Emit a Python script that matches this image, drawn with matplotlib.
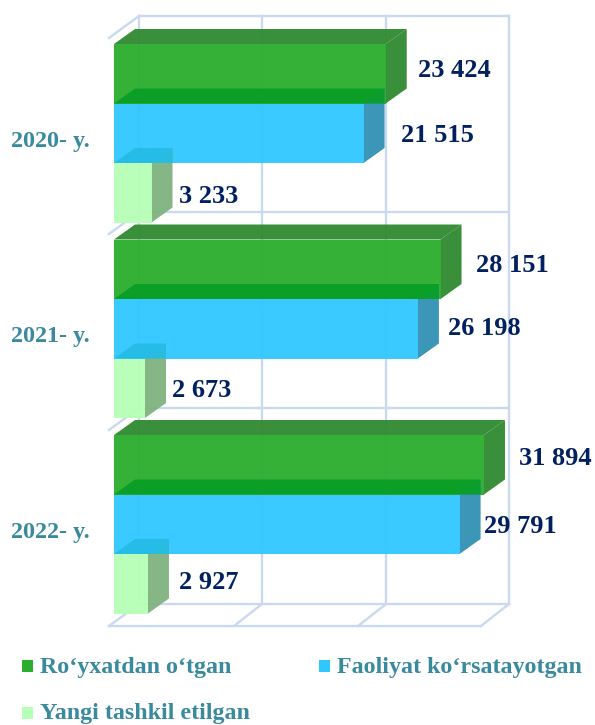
#!/usr/bin/python3
import matplotlib
matplotlib.use("Agg")
import matplotlib.pyplot as plt
from matplotlib.patches import Polygon

# data
years = ["2020- y.", "2021- y.", "2022- y."]
registered = [23424, 28151, 31894]
active = [21515, 26198, 29791]
new_firms = [3233, 2673, 2927]
series_names = ["Ro\u2018yxatdan o\u2018tgan", "Faoliyat ko\u2018rsatayotgan", "Yangi tashkil etilgan"]
value_labels = [["23 424", "28 151", "31 894"],
                ["21 515", "26 198", "29 791"],
                ["3 233", "2 673", "2 927"]]

# layout, in pixels of the 595x725 picture
W, H = 595, 725
PX_PER_UNIT = 0.0116
X0 = 114
BAR_H = 59.5
GROUP_TOP = [44, 239.5, 435]
DX, DY = 21, 15

plt.rcParams["font.family"] = ["Liberation Serif", "DejaVu Serif"]
plt.rcParams["font.weight"] = "bold"

fig = plt.figure(figsize=(W / 100, H / 100), dpi=100)
ax = fig.add_axes([0, 0, 1, 1])
ax.set_xlim(-X0 / PX_PER_UNIT, (W - X0) / PX_PER_UNIT)
ax.set_ylim(H, 0)
ax.axis("off")


def ux(px):
    # pixel length -> value units on the x axis
    return px / PX_PER_UNIT


def vx(px):
    # pixel position -> x axis value
    return (px - X0) / PX_PER_UNIT


# walls and floor
grid_c = "#c9d9ef"
grid_back = [139, 262, 386, 509]
grid_front = [109, 234, 358, 481]
for xb, xf in zip(grid_back, grid_front):
    ax.plot([vx(xb), vx(xb)], [16, 604], color=grid_c, lw=1.7, zorder=1)
    ax.plot([vx(xb), vx(xf)], [604, 626], color=grid_c, lw=1.7, zorder=1)
for yb in [16, 212, 408, 604]:
    ax.plot([vx(139), vx(509)], [yb, yb], color=grid_c, lw=1.7, zorder=1)
for yb in [16, 212, 408]:
    ax.plot([vx(139), vx(109)], [yb, yb + 22], color=grid_c, lw=1.7, zorder=1)
ax.plot([vx(109), vx(481)], [626, 626], color=grid_c, lw=1.7, zorder=1)

series = [registered, active, new_firms]
front_cols = ["#2bad2d", "#30c7ff", "#b6ffb6"]
top_cols = ["#2f8a2f", "#0a9e28", "#24bde6"]
side_cols = ["#2f8a2f", "#3090b3", "#80b280"]
label_dx = [[11, 14, 14], [16, 9, 3], [6, 6, 10]]
label_dy = [[-3, -4, -6], [2, 0, 2], [4, 2, -1]]
label_c = "#002060"
cat_c = "#3a8a9e"
face_alpha = 0.95

z = 2
for g, top in enumerate(GROUP_TOP):
    for s, vals in enumerate(series):
        v = vals[g]
        y0 = top + s * BAR_H
        y1 = y0 + BAR_H
        d = ux(DX)
        # side and top faces sit behind the front face
        ax.add_patch(Polygon([(v, y0), (v + d, y0 - DY), (v + d, y1 - DY), (v, y1)],
                             fc=side_cols[s], ec="none", alpha=face_alpha, zorder=z))
        if s == 0:
            top_face = [(0, y0), (d, y0 - DY), (v + d, y0 - DY), (v, y0)]
        else:
            # the bar above covers the upper corner of the side face too
            top_face = [(0, y0), (d, y0 - DY), (v + d, y0 - DY), (v + d, y0), (v, y0)]
        ax.add_patch(Polygon(top_face, fc=top_cols[s], ec="none", alpha=face_alpha, zorder=z + 1))
        ax.add_patch(Polygon([(0, y0), (v, y0), (v, y1), (0, y1)],
                             fc=front_cols[s], ec="none", alpha=face_alpha, zorder=z + 2))
        z += 3
        ax.text(v + d + ux(label_dx[s][g]), (y0 + y1) / 2 + label_dy[s][g], value_labels[s][g],
                color=label_c, fontsize=19, ha="left", va="center", zorder=100)
    ax.text(vx(11), top + 1.5 * BAR_H + 8, years[g], color=cat_c, fontsize=17.4,
            ha="left", va="center", zorder=100)

# legend is laid out by hand to keep the two-row placement
legend_pos = [(22, 666), (319, 666), (22, 713)]
for name, col, (lx, ly) in zip(series_names, front_cols, legend_pos):
    ax.add_patch(Polygon([(vx(lx), ly - 6), (vx(lx + 11), ly - 6), (vx(lx + 11), ly + 6), (vx(lx), ly + 6)],
                         fc=col, ec="none", zorder=100))
    ax.text(vx(lx + 18), ly + 1, name, color=cat_c, fontsize=17.3, ha="left", va="center", zorder=100)

fig.savefig("out.png", dpi=100)
